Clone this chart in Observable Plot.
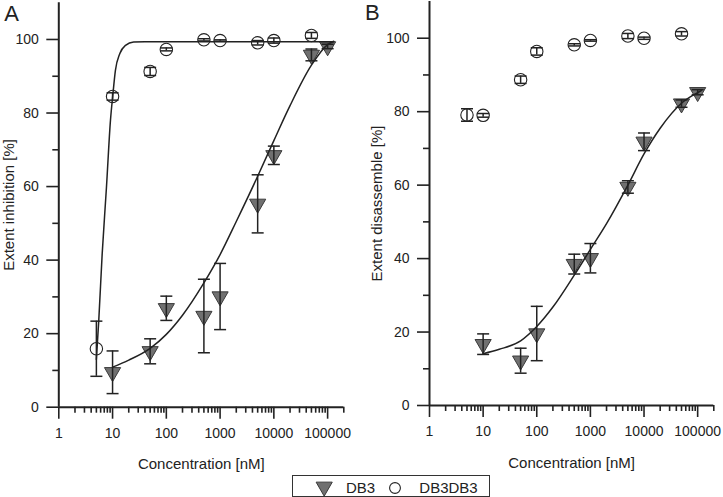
<!DOCTYPE html>
<html>
<head>
<meta charset="utf-8">
<script src="https://cdn.jsdelivr.net/npm/d3@7"></script>
<script src="https://cdn.jsdelivr.net/npm/@observablehq/plot@0.6"></script>
<style>
  body { margin: 0; background: #fff; }
  #wrap { position: relative; width: 723px; height: 497px; overflow: hidden; font-family: "Liberation Sans", Arial, sans-serif; color: #222; }
  #wrap > svg { position: absolute; top: 0; }
  #legend { position: absolute; left: 292px; top: 475px; width: 196px; height: 20px; border: 1px solid #333; }
  #legend svg { position: absolute; left: 0; top: 0; overflow: visible; }
</style>
</head>
<body>
<div id="wrap"></div>
<script>
// ---- Data ----
const concDB3 = [10, 50, 100, 500, 1000, 5000, 10000, 50000, 100000];
const concDB3DB3 = [5, 10, 50, 100, 500, 1000, 5000, 10000, 50000];

// Panel A: Extent inhibition [%]
const aDB3Mean = [9.5, 15.2, 26.9, 24.8, 30.1, 55.3, 68.5, 95.8, 98.1];
const aDB3Err = [5.8, 3.4, 3.3, 10.0, 9.0, 7.9, 2.5, 1.6, 0.6];
const aDB3DB3Mean = [15.9, 84.5, 91.3, 97.3, 99.9, 99.7, 99.1, 99.7, 101.1];
const aDB3DB3Err = [7.5, 1.0, 1.1, 0.4, 0.3, 0.2, 0.6, 0.7, 0.8];
const aFitDB3X = [10, 20, 50, 100, 200, 500, 1000, 2000, 5000, 10000, 20000, 50000, 100000, 130000];
const aFitDB3Y = [10.9, 12.8, 16.0, 19.8, 25.0, 33.8, 41.5, 50.5, 62.8, 72.5, 82.0, 93.0, 98.6, 99.5];
const aFitDB3DB3X = [5, 5.54, 6.41, 7.7, 9.14, 10.1, 11.3, 13.6, 17.4, 24.7, 40, 130000];
const aFitDB3DB3Y = [13, 23.6, 41.7, 59.8, 78.0, 84.8, 91.6, 96.1, 98.4, 99.3, 99.4, 99.4];

// Panel B: Extent disassemble [%]
const bDB3Mean = [16.7, 12.2, 19.6, 38.5, 40.1, 59.5, 71.8, 82.2, 85.3];
const bDB3Err = [2.8, 3.4, 7.4, 2.7, 4.0, 1.7, 2.4, 1.0, 0.7];
const bDB3DB3Mean = [79.1, 79.0, 88.7, 96.4, 98.2, 99.4, 100.6, 100.0, 101.2];
const bDB3DB3Err = [1.7, 0.5, 1.0, 1.0, 0.3, 0.2, 0.7, 0.3, 0.6];
const bFitDB3X = [10, 20, 50, 100, 200, 500, 1000, 2000, 5000, 10000, 20000, 50000, 100000, 118000];
const bFitDB3Y = [14.1, 15.3, 17.6, 21.5, 26.8, 35.5, 42.5, 49.5, 60.0, 68.5, 75.5, 82.3, 85.2, 85.8];

// Axis ticks
const xMajorTicks = [1, 10, 100, 1000, 10000, 100000];
const xMinorTicks = [2,3,4,5,6,7,8,9, 20,30,40,50,60,70,80,90, 200,300,400,500,600,700,800,900,
  2000,3000,4000,5000,6000,7000,8000,9000, 20000,30000,40000,50000,60000,70000,80000,90000, 200000];
const yMajorTicks = [0, 20, 40, 60, 80, 100];
const yMinorTicks = [10, 30, 50, 70, 90];

const seriesNames = ["DB3", "DB3DB3"];
const xTitle = "Concentration [nM]";

// ---- Helpers ----
const rows = (c, m, e) => c.map((v, i) => ({c: v, m: m[i], e: e[i]}));
const pts = (xs, ys) => xs.map((v, i) => ({x: v, y: ys[i]}));
const cap = { draw(ctx) { ctx.moveTo(-6, 0); ctx.lineTo(6, 0); } };
const INK = "#222";
const TRI_FILL = "#707070";

function panel(opts) {
  const {db3, db3db3, fits, yTitle, letter, width, ml, mr, mt, mb, yLabelOffset, letterDx} = opts;
  const errMarks = (data) => [
    Plot.ruleX(data, {x: "c", y1: d => d.m - d.e, y2: d => d.m + d.e, stroke: INK, strokeWidth: 1.5}),
    Plot.dot(data, {x: "c", y: d => d.m + d.e, symbol: cap, fill: "none", stroke: INK, strokeWidth: 1.5}),
    Plot.dot(data, {x: "c", y: d => d.m - d.e, symbol: cap, fill: "none", stroke: INK, strokeWidth: 1.5})
  ];
  return Plot.plot({
    width, height: 470,
    marginLeft: ml, marginRight: mr, marginTop: mt, marginBottom: mb,
    style: {fontFamily: '"Liberation Sans", Arial, sans-serif', fontSize: "14px", color: INK, background: "transparent", overflow: "visible"},
    x: {type: "log", domain: [1, 200000]},
    y: {domain: [0, 110]},
    marks: [
      Plot.axisX({ticks: xMajorTicks, tickSize: 12, tickPadding: 9, tickFormat: d => String(d), strokeWidth: 1.6, label: null, fontSize: 14}),
      Plot.axisX({ticks: xMinorTicks, tickSize: 6, tickFormat: () => "", strokeWidth: 1.6, label: null}),
      Plot.axisX({ticks: [], label: xTitle, labelAnchor: "center", labelArrow: "none", labelOffset: 62, fontSize: 15}),
      Plot.axisY({ticks: yMajorTicks, tickSize: 12, tickPadding: 8, tickFormat: d => String(d), strokeWidth: 1.6, label: null, fontSize: 14}),
      Plot.axisY({ticks: yMinorTicks, tickSize: 6, tickFormat: () => "", strokeWidth: 1.6, label: null}),
      Plot.axisY({ticks: [], label: yTitle, labelAnchor: "center", labelArrow: "none", labelOffset: yLabelOffset, fontSize: 15}),
      Plot.ruleY([0], {stroke: INK, strokeWidth: 2}),
      Plot.ruleX([1], {stroke: INK, strokeWidth: 2}),
      Plot.dot(db3, {x: "c", y: "m", symbol: "triangle", rotate: 180, r: 6, fill: TRI_FILL, stroke: "#3a3a3a", strokeWidth: 1}),
      Plot.dot(db3db3, {x: "c", y: "m", symbol: "circle", r: 6.2, fill: "#fff", stroke: INK, strokeWidth: 1.1}),
      ...fits.map(f => Plot.line(f, {x: "x", y: "y", curve: "monotone-x", stroke: INK, strokeWidth: 1.5})),
      ...errMarks(db3),
      ...errMarks(db3db3),
      Plot.text([letter], {frameAnchor: "top-left", dx: letterDx, dy: 3, text: d => d, textAnchor: "start", lineAnchor: "top", fontSize: 22, fill: INK})
    ]
  });
}

const wrap = document.getElementById("wrap");

const plotA = panel({
  db3: rows(concDB3, aDB3Mean, aDB3Err),
  db3db3: rows(concDB3DB3, aDB3DB3Mean, aDB3DB3Err),
  fits: [pts(aFitDB3DB3X, aFitDB3DB3Y), pts(aFitDB3X, aFitDB3Y)],
  yTitle: "Extent inhibition [%]", letter: "A",
  width: 361, ml: 58.3, mr: 17.7, mt: 2.2, mb: 63.3, yLabelOffset: 55.5, letterDx: -54.5
});
plotA.style.left = "0px";
wrap.appendChild(plotA);

const plotB = panel({
  db3: rows(concDB3, bDB3Mean, bDB3Err),
  db3db3: rows(concDB3DB3, bDB3DB3Mean, bDB3DB3Err),
  fits: [pts(bFitDB3X, bFitDB3Y)],
  yTitle: "Extent disassemble [%]", letter: "B",
  width: 362, ml: 68, mr: 9.7, mt: 1, mb: 65, yLabelOffset: 58.5, letterDx: -64.5
});
plotB.style.left = "361px";
wrap.appendChild(plotB);

// ---- Legend ----
const legend = document.createElement("div");
legend.id = "legend";
const ns = "http://www.w3.org/2000/svg";
const lsvg = document.createElementNS(ns, "svg");
lsvg.setAttribute("width", "196");
lsvg.setAttribute("height", "20");
const tri = d3.symbol(d3.symbolTriangle, Math.PI * 36)();
const g1 = d3.select(lsvg);
g1.append("path").attr("d", tri).attr("transform", "translate(31.2,10.8) rotate(180)")
  .attr("fill", TRI_FILL).attr("stroke", "#3a3a3a").attr("stroke-width", 1);
g1.append("text").attr("x", 53).attr("y", 16.5).attr("font-size", 15).attr("fill", INK)
  .attr("font-family", '"Liberation Sans", Arial, sans-serif').text(seriesNames[0]);
g1.append("circle").attr("cx", 102).attr("cy", 12).attr("r", 5.4).attr("fill", "#fff")
  .attr("stroke", INK).attr("stroke-width", 1.1);
g1.append("text").attr("x", 126.3).attr("y", 16.5).attr("font-size", 15).attr("fill", INK)
  .attr("font-family", '"Liberation Sans", Arial, sans-serif').text(seriesNames[1]);
legend.appendChild(lsvg);
wrap.appendChild(legend);
</script>
</body>
</html>
